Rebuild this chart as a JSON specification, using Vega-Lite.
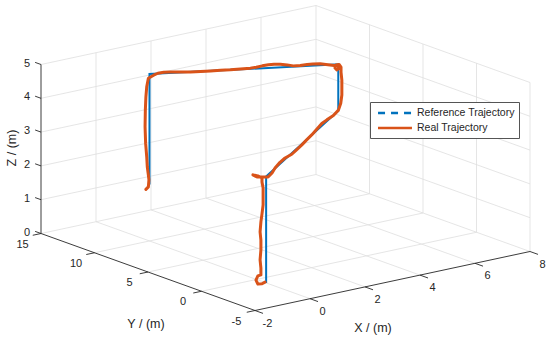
{
  "$schema": "https://vega.github.io/schema/vega-lite/v6.json",
  "width": 550,
  "height": 338,
  "autosize": {"type": "none"},
  "padding": 0,
  "background": "white",
  "config": {"view": {"stroke": null}, "font": "Liberation Sans"},
  "datasets": {
    "segments": [
      {"kind": "grid", "x1": 0, "y1": -5, "z1": 0, "x2": 0, "y2": 15, "z2": 0},
      {"kind": "grid", "x1": 2, "y1": -5, "z1": 0, "x2": 2, "y2": 15, "z2": 0},
      {"kind": "grid", "x1": 4, "y1": -5, "z1": 0, "x2": 4, "y2": 15, "z2": 0},
      {"kind": "grid", "x1": 6, "y1": -5, "z1": 0, "x2": 6, "y2": 15, "z2": 0},
      {"kind": "grid", "x1": 8, "y1": -5, "z1": 0, "x2": 8, "y2": 15, "z2": 0},
      {"kind": "grid", "x1": -2, "y1": 0, "z1": 0, "x2": 8, "y2": 0, "z2": 0},
      {"kind": "grid", "x1": -2, "y1": 5, "z1": 0, "x2": 8, "y2": 5, "z2": 0},
      {"kind": "grid", "x1": -2, "y1": 10, "z1": 0, "x2": 8, "y2": 10, "z2": 0},
      {"kind": "grid", "x1": -2, "y1": 15, "z1": 0, "x2": 8, "y2": 15, "z2": 0},
      {"kind": "grid", "x1": 0, "y1": 15, "z1": 0, "x2": 0, "y2": 15, "z2": 5},
      {"kind": "grid", "x1": 2, "y1": 15, "z1": 0, "x2": 2, "y2": 15, "z2": 5},
      {"kind": "grid", "x1": 4, "y1": 15, "z1": 0, "x2": 4, "y2": 15, "z2": 5},
      {"kind": "grid", "x1": 6, "y1": 15, "z1": 0, "x2": 6, "y2": 15, "z2": 5},
      {"kind": "grid", "x1": 8, "y1": 15, "z1": 0, "x2": 8, "y2": 15, "z2": 5},
      {"kind": "grid", "x1": -2, "y1": 15, "z1": 1, "x2": 8, "y2": 15, "z2": 1},
      {"kind": "grid", "x1": -2, "y1": 15, "z1": 2, "x2": 8, "y2": 15, "z2": 2},
      {"kind": "grid", "x1": -2, "y1": 15, "z1": 3, "x2": 8, "y2": 15, "z2": 3},
      {"kind": "grid", "x1": -2, "y1": 15, "z1": 4, "x2": 8, "y2": 15, "z2": 4},
      {"kind": "grid", "x1": -2, "y1": 15, "z1": 5, "x2": 8, "y2": 15, "z2": 5},
      {"kind": "grid", "x1": 8, "y1": -5, "z1": 0, "x2": 8, "y2": -5, "z2": 5},
      {"kind": "grid", "x1": 8, "y1": 0, "z1": 0, "x2": 8, "y2": 0, "z2": 5},
      {"kind": "grid", "x1": 8, "y1": 5, "z1": 0, "x2": 8, "y2": 5, "z2": 5},
      {"kind": "grid", "x1": 8, "y1": 10, "z1": 0, "x2": 8, "y2": 10, "z2": 5},
      {"kind": "grid", "x1": 8, "y1": -5, "z1": 1, "x2": 8, "y2": 15, "z2": 1},
      {"kind": "grid", "x1": 8, "y1": -5, "z1": 2, "x2": 8, "y2": 15, "z2": 2},
      {"kind": "grid", "x1": 8, "y1": -5, "z1": 3, "x2": 8, "y2": 15, "z2": 3},
      {"kind": "grid", "x1": 8, "y1": -5, "z1": 4, "x2": 8, "y2": 15, "z2": 4},
      {"kind": "grid", "x1": 8, "y1": -5, "z1": 5, "x2": 8, "y2": 15, "z2": 5},
      {"kind": "axis", "x1": -2, "y1": 15, "z1": 0, "x2": -2, "y2": 15, "z2": 5},
      {"kind": "axis", "x1": -2, "y1": -5, "z1": 0, "x2": -2, "y2": 15, "z2": 0},
      {"kind": "axis", "x1": -2, "y1": -5, "z1": 0, "x2": 8, "y2": -5, "z2": 0},
      {"kind": "tick", "x1": -2, "y1": 15, "z1": 0, "x2": -2, "y2": 15.55, "z2": 0},
      {"kind": "tick", "x1": -2, "y1": 15, "z1": 1, "x2": -2, "y2": 15.55, "z2": 1},
      {"kind": "tick", "x1": -2, "y1": 15, "z1": 2, "x2": -2, "y2": 15.55, "z2": 2},
      {"kind": "tick", "x1": -2, "y1": 15, "z1": 3, "x2": -2, "y2": 15.55, "z2": 3},
      {"kind": "tick", "x1": -2, "y1": 15, "z1": 4, "x2": -2, "y2": 15.55, "z2": 4},
      {"kind": "tick", "x1": -2, "y1": 15, "z1": 5, "x2": -2, "y2": 15.55, "z2": 5},
      {"kind": "tick", "x1": -2, "y1": -5, "z1": 0, "x2": -2.3, "y2": -5, "z2": 0},
      {"kind": "tick", "x1": -2, "y1": 0, "z1": 0, "x2": -2.3, "y2": 0, "z2": 0},
      {"kind": "tick", "x1": -2, "y1": 5, "z1": 0, "x2": -2.3, "y2": 5, "z2": 0},
      {"kind": "tick", "x1": -2, "y1": 10, "z1": 0, "x2": -2.3, "y2": 10, "z2": 0},
      {"kind": "tick", "x1": -2, "y1": 15, "z1": 0, "x2": -2.3, "y2": 15, "z2": 0},
      {"kind": "tick", "x1": -2, "y1": -5, "z1": 0, "x2": -2, "y2": -5.75, "z2": 0},
      {"kind": "tick", "x1": 0, "y1": -5, "z1": 0, "x2": 0, "y2": -5.75, "z2": 0},
      {"kind": "tick", "x1": 2, "y1": -5, "z1": 0, "x2": 2, "y2": -5.75, "z2": 0},
      {"kind": "tick", "x1": 4, "y1": -5, "z1": 0, "x2": 4, "y2": -5.75, "z2": 0},
      {"kind": "tick", "x1": 6, "y1": -5, "z1": 0, "x2": 6, "y2": -5.75, "z2": 0},
      {"kind": "tick", "x1": 8, "y1": -5, "z1": 0, "x2": 8, "y2": -5.75, "z2": 0}
    ],
    "ticklabels": [
      {"axis": "z", "label": "0", "X": -2, "Y": 15, "Z": 0},
      {"axis": "z", "label": "1", "X": -2, "Y": 15, "Z": 1},
      {"axis": "z", "label": "2", "X": -2, "Y": 15, "Z": 2},
      {"axis": "z", "label": "3", "X": -2, "Y": 15, "Z": 3},
      {"axis": "z", "label": "4", "X": -2, "Y": 15, "Z": 4},
      {"axis": "z", "label": "5", "X": -2, "Y": 15, "Z": 5},
      {"axis": "y", "label": "-5", "X": -2, "Y": -5, "Z": 0},
      {"axis": "y", "label": "0", "X": -2, "Y": 0, "Z": 0},
      {"axis": "y", "label": "5", "X": -2, "Y": 5, "Z": 0},
      {"axis": "y", "label": "10", "X": -2, "Y": 10, "Z": 0},
      {"axis": "y", "label": "15", "X": -2, "Y": 15, "Z": 0},
      {"axis": "x", "label": "-2", "X": -2, "Y": -5, "Z": 0},
      {"axis": "x", "label": "0", "X": 0, "Y": -5, "Z": 0},
      {"axis": "x", "label": "2", "X": 2, "Y": -5, "Z": 0},
      {"axis": "x", "label": "4", "X": 4, "Y": -5, "Z": 0},
      {"axis": "x", "label": "6", "X": 6, "Y": -5, "Z": 0},
      {"axis": "x", "label": "8", "X": 8, "Y": -5, "Z": 0}
    ],
    "titles": [
      {"axis": "x", "label": "X / (m)", "X": 3, "Y": -5, "Z": 0},
      {"axis": "y", "label": "Y / (m)", "X": -2, "Y": 5, "Z": 0},
      {"axis": "z", "label": "Z / (m)", "X": -2, "Y": 15, "Z": 2.5}
    ],
    "traj": [
      {"series": "Reference Trajectory", "i": 1, "X": 0, "Y": -0.9, "Z": 0},
      {"series": "Reference Trajectory", "i": 2, "X": 0, "Y": -0.9, "Z": 3.15},
      {"series": "Reference Trajectory", "i": 3, "X": 5.6, "Y": 6.75, "Z": 3.24},
      {"series": "Reference Trajectory", "i": 4, "X": 5.6, "Y": 6.75, "Z": 4.62},
      {"series": "Reference Trajectory", "i": 5, "X": 0.68, "Y": 11.75, "Z": 4.62},
      {"series": "Reference Trajectory", "i": 6, "X": 0.68, "Y": 11.75, "Z": 1.35},
      {"series": "Real Trajectory", "i": 1, "X": -0.04, "Y": -0.9, "Z": 0.03},
      {"series": "Real Trajectory", "i": 2, "X": -0.15, "Y": -0.9, "Z": 0.0},
      {"series": "Real Trajectory", "i": 3, "X": -0.3, "Y": -0.9, "Z": 0.02},
      {"series": "Real Trajectory", "i": 4, "X": -0.37, "Y": -0.9, "Z": 0.15},
      {"series": "Real Trajectory", "i": 5, "X": -0.3, "Y": -0.9, "Z": 0.26},
      {"series": "Real Trajectory", "i": 6, "X": -0.19, "Y": -0.9, "Z": 0.27},
      {"series": "Real Trajectory", "i": 7, "X": -0.19, "Y": -0.9, "Z": 0.47},
      {"series": "Real Trajectory", "i": 8, "X": -0.22, "Y": -0.9, "Z": 0.72},
      {"series": "Real Trajectory", "i": 9, "X": -0.19, "Y": -0.9, "Z": 1.01},
      {"series": "Real Trajectory", "i": 10, "X": -0.19, "Y": -0.9, "Z": 1.3},
      {"series": "Real Trajectory", "i": 11, "X": -0.22, "Y": -0.9, "Z": 1.55},
      {"series": "Real Trajectory", "i": 12, "X": -0.19, "Y": -0.9, "Z": 1.84},
      {"series": "Real Trajectory", "i": 13, "X": -0.15, "Y": -0.9, "Z": 2.07},
      {"series": "Real Trajectory", "i": 14, "X": -0.11, "Y": -0.9, "Z": 2.33},
      {"series": "Real Trajectory", "i": 15, "X": -0.11, "Y": -0.9, "Z": 2.59},
      {"series": "Real Trajectory", "i": 16, "X": -0.11, "Y": -0.9, "Z": 2.83},
      {"series": "Real Trajectory", "i": 17, "X": -0.15, "Y": -0.9, "Z": 3.01},
      {"series": "Real Trajectory", "i": 18, "X": -0.15, "Y": -0.9, "Z": 3.13},
      {"series": "Real Trajectory", "i": 19, "X": -0.3, "Y": -0.9, "Z": 3.22},
      {"series": "Real Trajectory", "i": 20, "X": -0.48, "Y": -0.9, "Z": 3.28},
      {"series": "Real Trajectory", "i": 21, "X": -0.33, "Y": -0.9, "Z": 3.19},
      {"series": "Real Trajectory", "i": 22, "X": -0.11, "Y": -0.9, "Z": 3.15},
      {"series": "Real Trajectory", "i": 23, "X": 0.07, "Y": -0.9, "Z": 3.12},
      {"series": "Real Trajectory", "i": 24, "X": 0.46, "Y": -0.27, "Z": 3.1},
      {"series": "Real Trajectory", "i": 25, "X": 0.69, "Y": 0.04, "Z": 3.17},
      {"series": "Real Trajectory", "i": 26, "X": 1.08, "Y": 0.58, "Z": 3.21},
      {"series": "Real Trajectory", "i": 27, "X": 1.47, "Y": 1.11, "Z": 3.21},
      {"series": "Real Trajectory", "i": 28, "X": 1.99, "Y": 1.82, "Z": 3.15},
      {"series": "Real Trajectory", "i": 29, "X": 2.38, "Y": 2.35, "Z": 3.16},
      {"series": "Real Trajectory", "i": 30, "X": 2.77, "Y": 2.88, "Z": 3.17},
      {"series": "Real Trajectory", "i": 31, "X": 3.15, "Y": 3.41, "Z": 3.19},
      {"series": "Real Trajectory", "i": 32, "X": 3.54, "Y": 3.94, "Z": 3.21},
      {"series": "Real Trajectory", "i": 33, "X": 3.93, "Y": 4.47, "Z": 3.25},
      {"series": "Real Trajectory", "i": 34, "X": 4.32, "Y": 5.0, "Z": 3.29},
      {"series": "Real Trajectory", "i": 35, "X": 4.71, "Y": 5.53, "Z": 3.27},
      {"series": "Real Trajectory", "i": 36, "X": 5.22, "Y": 6.23, "Z": 3.23},
      {"series": "Real Trajectory", "i": 37, "X": 5.61, "Y": 6.76, "Z": 3.26},
      {"series": "Real Trajectory", "i": 38, "X": 5.69, "Y": 6.75, "Z": 3.45},
      {"series": "Real Trajectory", "i": 39, "X": 5.73, "Y": 6.75, "Z": 3.69},
      {"series": "Real Trajectory", "i": 40, "X": 5.73, "Y": 6.75, "Z": 3.9},
      {"series": "Real Trajectory", "i": 41, "X": 5.73, "Y": 6.75, "Z": 4.13},
      {"series": "Real Trajectory", "i": 42, "X": 5.7, "Y": 6.75, "Z": 4.37},
      {"series": "Real Trajectory", "i": 43, "X": 5.7, "Y": 6.75, "Z": 4.52},
      {"series": "Real Trajectory", "i": 44, "X": 5.63, "Y": 6.75, "Z": 4.61},
      {"series": "Real Trajectory", "i": 45, "X": 5.52, "Y": 6.75, "Z": 4.61},
      {"series": "Real Trajectory", "i": 46, "X": 5.48, "Y": 6.75, "Z": 4.53},
      {"series": "Real Trajectory", "i": 47, "X": 5.55, "Y": 6.75, "Z": 4.46},
      {"series": "Real Trajectory", "i": 48, "X": 5.63, "Y": 6.75, "Z": 4.5},
      {"series": "Real Trajectory", "i": 49, "X": 5.59, "Y": 6.75, "Z": 4.59},
      {"series": "Real Trajectory", "i": 50, "X": 5.49, "Y": 6.86, "Z": 4.59},
      {"series": "Real Trajectory", "i": 51, "X": 5.28, "Y": 7.08, "Z": 4.63},
      {"series": "Real Trajectory", "i": 52, "X": 5.13, "Y": 7.23, "Z": 4.66},
      {"series": "Real Trajectory", "i": 53, "X": 4.94, "Y": 7.42, "Z": 4.67},
      {"series": "Real Trajectory", "i": 54, "X": 4.79, "Y": 7.58, "Z": 4.66},
      {"series": "Real Trajectory", "i": 55, "X": 4.61, "Y": 7.76, "Z": 4.64},
      {"series": "Real Trajectory", "i": 56, "X": 4.43, "Y": 7.95, "Z": 4.64},
      {"series": "Real Trajectory", "i": 57, "X": 4.27, "Y": 8.1, "Z": 4.68},
      {"series": "Real Trajectory", "i": 58, "X": 4.09, "Y": 8.29, "Z": 4.71},
      {"series": "Real Trajectory", "i": 59, "X": 3.93, "Y": 8.45, "Z": 4.72},
      {"series": "Real Trajectory", "i": 60, "X": 3.78, "Y": 8.6, "Z": 4.71},
      {"series": "Real Trajectory", "i": 61, "X": 3.62, "Y": 8.76, "Z": 4.69},
      {"series": "Real Trajectory", "i": 62, "X": 3.46, "Y": 8.92, "Z": 4.66},
      {"series": "Real Trajectory", "i": 63, "X": 3.31, "Y": 9.08, "Z": 4.64},
      {"series": "Real Trajectory", "i": 64, "X": 3.05, "Y": 9.34, "Z": 4.63},
      {"series": "Real Trajectory", "i": 65, "X": 2.79, "Y": 9.61, "Z": 4.62},
      {"series": "Real Trajectory", "i": 66, "X": 2.53, "Y": 9.87, "Z": 4.62},
      {"series": "Real Trajectory", "i": 67, "X": 2.27, "Y": 10.13, "Z": 4.62},
      {"series": "Real Trajectory", "i": 68, "X": 2.01, "Y": 10.4, "Z": 4.62},
      {"series": "Real Trajectory", "i": 69, "X": 1.75, "Y": 10.66, "Z": 4.62},
      {"series": "Real Trajectory", "i": 70, "X": 1.49, "Y": 10.93, "Z": 4.63},
      {"series": "Real Trajectory", "i": 71, "X": 1.23, "Y": 11.19, "Z": 4.65},
      {"series": "Real Trajectory", "i": 72, "X": 1.05, "Y": 11.37, "Z": 4.65},
      {"series": "Real Trajectory", "i": 73, "X": 0.9, "Y": 11.53, "Z": 4.63},
      {"series": "Real Trajectory", "i": 74, "X": 0.79, "Y": 11.64, "Z": 4.58},
      {"series": "Real Trajectory", "i": 75, "X": 0.64, "Y": 11.75, "Z": 4.5},
      {"series": "Real Trajectory", "i": 76, "X": 0.58, "Y": 11.75, "Z": 4.26},
      {"series": "Real Trajectory", "i": 77, "X": 0.55, "Y": 11.75, "Z": 3.97},
      {"series": "Real Trajectory", "i": 78, "X": 0.53, "Y": 11.75, "Z": 3.58},
      {"series": "Real Trajectory", "i": 79, "X": 0.52, "Y": 11.75, "Z": 3.09},
      {"series": "Real Trajectory", "i": 80, "X": 0.54, "Y": 11.75, "Z": 2.6},
      {"series": "Real Trajectory", "i": 81, "X": 0.58, "Y": 11.75, "Z": 2.19},
      {"series": "Real Trajectory", "i": 82, "X": 0.6, "Y": 11.75, "Z": 1.89},
      {"series": "Real Trajectory", "i": 83, "X": 0.64, "Y": 11.75, "Z": 1.64},
      {"series": "Real Trajectory", "i": 84, "X": 0.66, "Y": 11.75, "Z": 1.49},
      {"series": "Real Trajectory", "i": 85, "X": 0.64, "Y": 11.75, "Z": 1.29},
      {"series": "Real Trajectory", "i": 86, "X": 0.55, "Y": 11.75, "Z": 1.23}
    ]
  },
  "layer": [
    {
      "data": {"name": "segments"},
      "transform": [
        {"filter": "datum.kind === 'grid'"},
        {"calculate": "27.5*(datum.x1+2)-10.7*(datum.y1+5)", "as": "u1"},
        {"calculate": "5.9*(datum.x1+2)+3.85*(datum.y1+5)+33.8*datum.z1", "as": "v1"},
        {"calculate": "27.5*(datum.x2+2)-10.7*(datum.y2+5)", "as": "u2"},
        {"calculate": "5.9*(datum.x2+2)+3.85*(datum.y2+5)+33.8*datum.z2", "as": "v2"}
      ],
      "mark": {"type": "rule", "stroke": "#dedede", "strokeWidth": 0.8},
      "encoding": {
        "x": {"field": "u1", "type": "quantitative", "scale": {"domain": [-255, 295], "nice": false, "zero": false}, "axis": null},
        "y": {"field": "v1", "type": "quantitative", "scale": {"domain": [-27.5, 310.5], "nice": false, "zero": false}, "axis": null},
        "x2": {"field": "u2"},
        "y2": {"field": "v2"}
      }
    },
    {
      "data": {"name": "segments"},
      "transform": [
        {"filter": "datum.kind !== 'grid'"},
        {"calculate": "27.5*(datum.x1+2)-10.7*(datum.y1+5)", "as": "u1"},
        {"calculate": "5.9*(datum.x1+2)+3.85*(datum.y1+5)+33.8*datum.z1", "as": "v1"},
        {"calculate": "27.5*(datum.x2+2)-10.7*(datum.y2+5)", "as": "u2"},
        {"calculate": "5.9*(datum.x2+2)+3.85*(datum.y2+5)+33.8*datum.z2", "as": "v2"}
      ],
      "mark": {"type": "rule", "stroke": "#262626", "strokeWidth": 0.9},
      "encoding": {
        "x": {"field": "u1", "type": "quantitative", "scale": {"domain": [-255, 295], "nice": false, "zero": false}, "axis": null},
        "y": {"field": "v1", "type": "quantitative", "scale": {"domain": [-27.5, 310.5], "nice": false, "zero": false}, "axis": null},
        "x2": {"field": "u2"},
        "y2": {"field": "v2"}
      }
    },
    {
      "data": {"name": "traj"},
      "transform": [
        {"filter": "datum.series === 'Reference Trajectory'"},
        {"calculate": "27.5*(datum.X+2)-10.7*(datum.Y+5)", "as": "u"},
        {"calculate": "5.9*(datum.X+2)+3.85*(datum.Y+5)+33.8*datum.Z", "as": "v"}
      ],
      "mark": {"type": "line", "strokeWidth": 2},
      "encoding": {
        "x": {"field": "u", "type": "quantitative", "scale": {"domain": [-255, 295], "nice": false, "zero": false}, "axis": null},
        "y": {"field": "v", "type": "quantitative", "scale": {"domain": [-27.5, 310.5], "nice": false, "zero": false}, "axis": null},
        "order": {"field": "i", "type": "quantitative"},
        "color": {
          "field": "series", "type": "nominal",
          "scale": {"domain": ["Reference Trajectory", "Real Trajectory"], "range": ["#0072BD", "#D95319"]},
          "legend": {
            "title": null, "orient": "none", "legendX": 370, "legendY": 102,
            "direction": "vertical", "padding": 4, "rowPadding": 2,
            "symbolType": "M-3,0H3", "symbolSize": 128, "symbolStrokeWidth": 2.5,
            "symbolOffset": 14, "labelOffset": 15,
            "labelFontSize": 10.5, "labelColor": "#262626", "labelFont": "Liberation Sans",
            "strokeColor": "#555555", "fillColor": "white",
            "encode": {
              "symbols": {"update": {"strokeDash": {"signal": "datum.value === 'Reference Trajectory' ? [7, 6] : [1, 0]"}}}
            }
          }
        }
      }
    },
    {
      "data": {"name": "traj"},
      "transform": [
        {"filter": "datum.series === 'Real Trajectory'"},
        {"calculate": "27.5*(datum.X+2)-10.7*(datum.Y+5)", "as": "u"},
        {"calculate": "5.9*(datum.X+2)+3.85*(datum.Y+5)+33.8*datum.Z", "as": "v"}
      ],
      "mark": {"type": "line", "strokeWidth": 3, "strokeJoin": "round", "strokeCap": "round"},
      "encoding": {
        "x": {"field": "u", "type": "quantitative", "scale": {"domain": [-255, 295], "nice": false, "zero": false}, "axis": null},
        "y": {"field": "v", "type": "quantitative", "scale": {"domain": [-27.5, 310.5], "nice": false, "zero": false}, "axis": null},
        "order": {"field": "i", "type": "quantitative"},
        "color": {"field": "series", "type": "nominal", "scale": {"domain": ["Reference Trajectory", "Real Trajectory"], "range": ["#0072BD", "#D95319"]}}
      }
    },
    {
      "data": {"name": "ticklabels"},
      "transform": [
        {"filter": "datum.axis === 'z'"},
        {"calculate": "27.5*(datum.X+2)-10.7*(datum.Y+5)", "as": "u"},
        {"calculate": "5.9*(datum.X+2)+3.85*(datum.Y+5)+33.8*datum.Z", "as": "v"}
      ],
      "mark": {"type": "text", "align": "right", "baseline": "middle", "dx": -11, "dy": -1, "fontSize": 11, "color": "#262626", "font": "Liberation Sans"},
      "encoding": {
        "x": {"field": "u", "type": "quantitative", "scale": {"domain": [-255, 295], "nice": false, "zero": false}, "axis": null},
        "y": {"field": "v", "type": "quantitative", "scale": {"domain": [-27.5, 310.5], "nice": false, "zero": false}, "axis": null},
        "text": {"field": "label"}
      }
    },
    {
      "data": {"name": "ticklabels"},
      "transform": [
        {"filter": "datum.axis === 'y'"},
        {"calculate": "27.5*(datum.X+2)-10.7*(datum.Y+5)", "as": "u"},
        {"calculate": "5.9*(datum.X+2)+3.85*(datum.Y+5)+33.8*datum.Z", "as": "v"}
      ],
      "mark": {"type": "text", "align": "center", "baseline": "middle", "dx": -18.5, "dy": 11, "fontSize": 11, "color": "#262626", "font": "Liberation Sans"},
      "encoding": {
        "x": {"field": "u", "type": "quantitative", "scale": {"domain": [-255, 295], "nice": false, "zero": false}, "axis": null},
        "y": {"field": "v", "type": "quantitative", "scale": {"domain": [-27.5, 310.5], "nice": false, "zero": false}, "axis": null},
        "text": {"field": "label"}
      }
    },
    {
      "data": {"name": "ticklabels"},
      "transform": [
        {"filter": "datum.axis === 'x'"},
        {"calculate": "27.5*(datum.X+2)-10.7*(datum.Y+5)", "as": "u"},
        {"calculate": "5.9*(datum.X+2)+3.85*(datum.Y+5)+33.8*datum.Z", "as": "v"}
      ],
      "mark": {"type": "text", "align": "center", "baseline": "middle", "dx": 12.5, "dy": 13, "fontSize": 11, "color": "#262626", "font": "Liberation Sans"},
      "encoding": {
        "x": {"field": "u", "type": "quantitative", "scale": {"domain": [-255, 295], "nice": false, "zero": false}, "axis": null},
        "y": {"field": "v", "type": "quantitative", "scale": {"domain": [-27.5, 310.5], "nice": false, "zero": false}, "axis": null},
        "text": {"field": "label"}
      }
    },
    {
      "data": {"name": "titles"},
      "transform": [
        {"filter": "datum.axis === 'x'"},
        {"calculate": "27.5*(datum.X+2)-10.7*(datum.Y+5)", "as": "u"},
        {"calculate": "5.9*(datum.X+2)+3.85*(datum.Y+5)+33.8*datum.Z", "as": "v"}
      ],
      "mark": {"type": "text", "align": "center", "baseline": "middle", "dx": -19.5, "dy": 47, "fontSize": 12.5, "color": "#262626", "font": "Liberation Sans"},
      "encoding": {
        "x": {"field": "u", "type": "quantitative", "scale": {"domain": [-255, 295], "nice": false, "zero": false}, "axis": null},
        "y": {"field": "v", "type": "quantitative", "scale": {"domain": [-27.5, 310.5], "nice": false, "zero": false}, "axis": null},
        "text": {"field": "label"}
      }
    },
    {
      "data": {"name": "titles"},
      "transform": [
        {"filter": "datum.axis === 'y'"},
        {"calculate": "27.5*(datum.X+2)-10.7*(datum.Y+5)", "as": "u"},
        {"calculate": "5.9*(datum.X+2)+3.85*(datum.Y+5)+33.8*datum.Z", "as": "v"}
      ],
      "mark": {"type": "text", "align": "center", "baseline": "middle", "dx": -2, "dy": 52, "fontSize": 12.5, "color": "#262626", "font": "Liberation Sans"},
      "encoding": {
        "x": {"field": "u", "type": "quantitative", "scale": {"domain": [-255, 295], "nice": false, "zero": false}, "axis": null},
        "y": {"field": "v", "type": "quantitative", "scale": {"domain": [-27.5, 310.5], "nice": false, "zero": false}, "axis": null},
        "text": {"field": "label"}
      }
    },
    {
      "data": {"name": "titles"},
      "transform": [
        {"filter": "datum.axis === 'z'"},
        {"calculate": "27.5*(datum.X+2)-10.7*(datum.Y+5)", "as": "u"},
        {"calculate": "5.9*(datum.X+2)+3.85*(datum.Y+5)+33.8*datum.Z", "as": "v"}
      ],
      "mark": {"type": "text", "align": "center", "baseline": "middle", "angle": 270, "dx": 1, "dy": -29, "fontSize": 12.5, "color": "#262626", "font": "Liberation Sans"},
      "encoding": {
        "x": {"field": "u", "type": "quantitative", "scale": {"domain": [-255, 295], "nice": false, "zero": false}, "axis": null},
        "y": {"field": "v", "type": "quantitative", "scale": {"domain": [-27.5, 310.5], "nice": false, "zero": false}, "axis": null},
        "text": {"field": "label"}
      }
    }
  ]
}
